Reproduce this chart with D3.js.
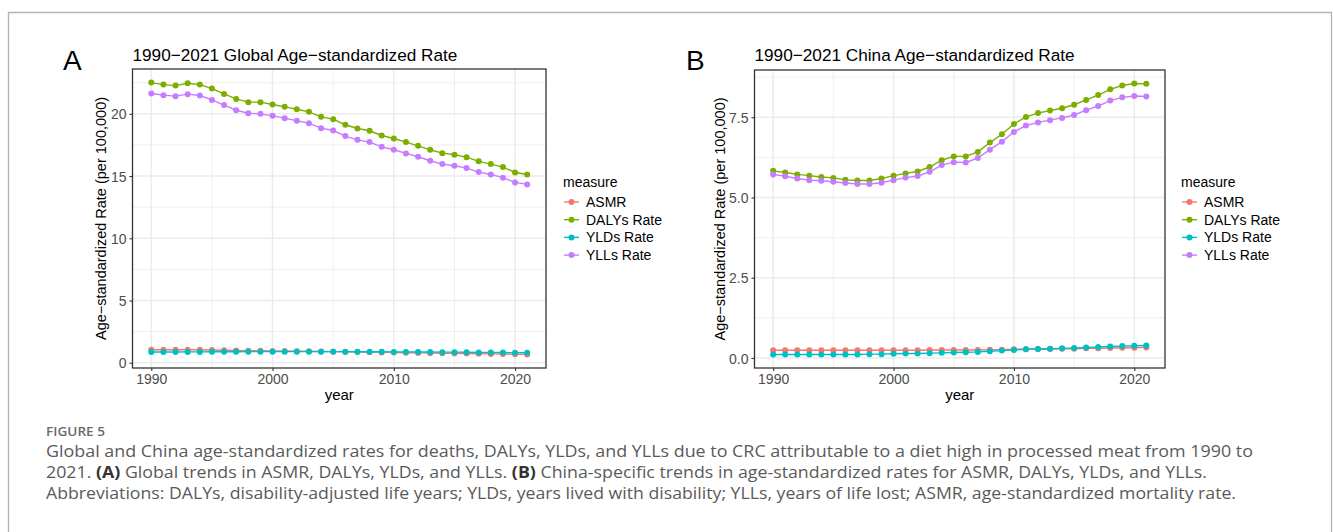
<!DOCTYPE html>
<html>
<head>
<meta charset="utf-8">
<script src="https://cdn.jsdelivr.net/npm/d3@7"></script>
<style>
  html, body { margin: 0; padding: 0; background: #fff; }
  svg { display: block; }
</style>
</head>
<body>
<svg id="fig" width="1333" height="532"></svg>
<script>
// ---- data -------------------------------------------------------------
const years = d3.range(1990, 2022);
const measures = ["ASMR", "DALYs Rate", "YLDs Rate", "YLLs Rate"];
const measureColors = ["#F8766D", "#7CAE00", "#00BFC4", "#C77CFF"];

// Global age-standardized rates (per 100,000)
const globalASMR = [1.05, 1.05, 1.05, 1.05, 1.04, 1.02, 1.00, 0.98, 0.96, 0.96,
  0.95, 0.94, 0.93, 0.92, 0.90, 0.89, 0.87, 0.86, 0.85, 0.83,
  0.82, 0.80, 0.79, 0.77, 0.76, 0.75, 0.74, 0.72, 0.71, 0.70, 0.68, 0.67];
const globalDALYs = [22.51, 22.35, 22.27, 22.46, 22.35, 22.03, 21.60, 21.20, 20.94, 20.94,
  20.75, 20.56, 20.37, 20.16, 19.76, 19.57, 19.12, 18.82, 18.64, 18.26,
  18.02, 17.73, 17.43, 17.11, 16.84, 16.71, 16.52, 16.18, 15.96, 15.72, 15.29, 15.13];
const globalYLDs = [0.86, 0.86, 0.86, 0.87, 0.87, 0.88, 0.88, 0.88, 0.89, 0.89,
  0.89, 0.89, 0.89, 0.89, 0.89, 0.89, 0.89, 0.88, 0.88, 0.88,
  0.87, 0.87, 0.86, 0.86, 0.85, 0.85, 0.84, 0.83, 0.83, 0.82, 0.81, 0.80];
const globalYLLs = [21.63, 21.50, 21.42, 21.58, 21.47, 21.12, 20.70, 20.29, 20.05, 20.00,
  19.84, 19.65, 19.44, 19.25, 18.85, 18.66, 18.21, 17.91, 17.73, 17.35,
  17.11, 16.82, 16.55, 16.23, 15.96, 15.83, 15.64, 15.32, 15.13, 14.87, 14.49, 14.33];

// China age-standardized rates (per 100,000)
const chinaASMR = [0.24, 0.24, 0.24, 0.24, 0.24, 0.24, 0.24, 0.24, 0.24, 0.24,
  0.24, 0.24, 0.24, 0.25, 0.25, 0.25, 0.25, 0.25, 0.26, 0.26,
  0.27, 0.27, 0.28, 0.28, 0.29, 0.29, 0.30, 0.30, 0.31, 0.32, 0.32, 0.33];
const chinaDALYs = [5.83, 5.78, 5.72, 5.68, 5.64, 5.61, 5.55, 5.53, 5.53, 5.59,
  5.68, 5.75, 5.81, 5.95, 6.16, 6.28, 6.28, 6.42, 6.71, 6.97,
  7.29, 7.51, 7.63, 7.71, 7.78, 7.89, 8.04, 8.19, 8.37, 8.49, 8.55, 8.54];
const chinaYLDs = [0.11, 0.11, 0.11, 0.11, 0.11, 0.11, 0.11, 0.11, 0.12, 0.12,
  0.13, 0.14, 0.14, 0.15, 0.16, 0.17, 0.18, 0.19, 0.21, 0.23,
  0.25, 0.27, 0.28, 0.29, 0.30, 0.31, 0.33, 0.34, 0.36, 0.37, 0.38, 0.39];
const chinaYLLs = [5.72, 5.66, 5.59, 5.54, 5.52, 5.49, 5.45, 5.42, 5.42, 5.46,
  5.54, 5.62, 5.67, 5.80, 6.01, 6.10, 6.09, 6.23, 6.49, 6.74,
  7.04, 7.24, 7.34, 7.41, 7.48, 7.57, 7.72, 7.85, 8.02, 8.12, 8.16, 8.15];

// axis ticks
const xTicks = [1990, 2000, 2010, 2020];
const xMinorTicks = [1995, 2005, 2015];
const globalYTicks = [0, 5, 10, 15, 20];
const globalYMinor = [2.5, 7.5, 12.5, 17.5, 22.5];
const chinaYTicks = [0, 2.5, 5, 7.5];
const chinaYMinor = [1.25, 3.75, 6.25, 8.75];

// caption
const captionHead = "FIGURE 5";
const captionLines = [
  "Global and China age-standardized rates for deaths, DALYs, YLDs, and YLLs due to CRC attributable to a diet high in processed meat from 1990 to",
  "2021. |(A)| Global trends in ASMR, DALYs, YLDs, and YLLs. |(B)| China-specific trends in age-standardized rates for ASMR, DALYs, YLDs, and YLLs.",
  "Abbreviations: DALYs, disability-adjusted life years; YLDs, years lived with disability; YLLs, years of life lost; ASMR, age-standardized mortality rate."
];
const captionWidths = [1207, 1161, 1190];

// ---- drawing ----------------------------------------------------------
const svg = d3.select("#fig");
const FONT = "'Liberation Sans', Arial, Helvetica, sans-serif";

// outer frame
svg.append("path")
  .attr("d", "M8.5,545 V12.5 H1331.5 V545")
  .attr("fill", "none").attr("stroke", "#b3b3b3").attr("stroke-width", 1.3);

function panel(cfg) {
  const g = svg.append("g");
  const x = d3.scaleLinear()
    .domain([1990 - 31 * 0.05, 2021 + 31 * 0.05])
    .range([cfg.left, cfg.right]);
  const allVals = cfg.series.flat();
  const lo = d3.min(allVals), hi = d3.max(allVals), pad = (hi - lo) * 0.05;
  const y = d3.scaleLinear().domain([lo - pad, hi + pad]).range([cfg.bottom, cfg.top]);

  // grid
  const grid = g.append("g");
  cfg.yMinor.filter(v => v <= y.domain()[1]).forEach(v => grid.append("line")
    .attr("x1", cfg.left).attr("x2", cfg.right).attr("y1", y(v)).attr("y2", y(v))
    .attr("stroke", "#ebebeb").attr("stroke-width", 0.8));
  xMinorTicks.forEach(v => grid.append("line")
    .attr("x1", x(v)).attr("x2", x(v)).attr("y1", cfg.top).attr("y2", cfg.bottom)
    .attr("stroke", "#ebebeb").attr("stroke-width", 0.8));
  cfg.yTicks.forEach(v => grid.append("line")
    .attr("x1", cfg.left).attr("x2", cfg.right).attr("y1", y(v)).attr("y2", y(v))
    .attr("stroke", "#ebebeb").attr("stroke-width", 1.5));
  xTicks.forEach(v => grid.append("line")
    .attr("x1", x(v)).attr("x2", x(v)).attr("y1", cfg.top).attr("y2", cfg.bottom)
    .attr("stroke", "#ebebeb").attr("stroke-width", 1.5));

  // series
  const line = d3.line().x((d, i) => x(years[i])).y(d => y(d));
  cfg.series.forEach((vals, k) => {
    g.append("path").datum(vals)
      .attr("d", line).attr("fill", "none")
      .attr("stroke", measureColors[k]).attr("stroke-width", 1.4);
    g.selectAll(null).data(vals).enter().append("circle")
      .attr("cx", (d, i) => x(years[i])).attr("cy", d => y(d))
      .attr("r", 3).attr("fill", measureColors[k]);
  });

  // panel border
  g.append("rect")
    .attr("x", cfg.left).attr("y", cfg.top)
    .attr("width", cfg.right - cfg.left).attr("height", cfg.bottom - cfg.top)
    .attr("fill", "none").attr("stroke", "#333333").attr("stroke-width", 1.3);

  // axes
  const xAxis = g.append("g").attr("transform", `translate(0,${cfg.bottom})`)
    .call(d3.axisBottom(x).tickValues(xTicks).tickFormat(d3.format("d")).tickSize(3).tickPadding(3));
  const yAxis = g.append("g").attr("transform", `translate(${cfg.left},0)`)
    .call(d3.axisLeft(y).tickValues(cfg.yTicks).tickFormat(cfg.yFormat).tickSize(3).tickPadding(3));
  [xAxis, yAxis].forEach(a => {
    a.select(".domain").remove();
    a.selectAll(".tick line").attr("stroke", "#333333").attr("stroke-width", 1.1);
    a.selectAll(".tick text").attr("fill", "#4d4d4d")
      .style("font-family", FONT).style("font-size", "14px");
  });
  yAxis.selectAll(".tick text").attr("dy", "0.36em");

  // axis titles
  g.append("text").attr("x", (cfg.left + cfg.right) / 2).attr("y", 400)
    .attr("text-anchor", "middle").style("font-family", FONT).style("font-size", "15px")
    .text("year");
  g.append("text")
    .attr("transform", `translate(${cfg.ytitleX},${(cfg.top + cfg.bottom) / 2}) rotate(-90)`)
    .attr("text-anchor", "middle").style("font-family", FONT).style("font-size", "14.5px")
    .text("Age\u2212standardized Rate (per 100,000)");

  // plot title and panel tag
  g.append("text").attr("x", cfg.left).attr("y", 61)
    .style("font-family", FONT).style("font-size", "17.2px").text(cfg.title);
  g.append("text").attr("x", cfg.tagX).attr("y", 70)
    .style("font-family", FONT).style("font-size", "28px").text(cfg.tag);

  // legend
  const lg = g.append("g");
  lg.append("text").attr("x", cfg.legendX).attr("y", 187)
    .style("font-family", FONT).style("font-size", "14px").text("measure");
  measures.forEach((m, k) => {
    const cy = 202 + k * 17.7;
    lg.append("line").attr("x1", cfg.legendX + 1).attr("x2", cfg.legendX + 16)
      .attr("y1", cy).attr("y2", cy).attr("stroke", measureColors[k]).attr("stroke-width", 1.4);
    lg.append("circle").attr("cx", cfg.legendX + 8.5).attr("cy", cy).attr("r", 3)
      .attr("fill", measureColors[k]);
    lg.append("text").attr("x", cfg.legendX + 23).attr("y", cy + 5)
      .style("font-family", FONT).style("font-size", "14px").text(m);
  });
}

panel({
  left: 132.5, right: 546, top: 69, bottom: 368,
  series: [globalASMR, globalDALYs, globalYLDs, globalYLLs],
  yTicks: globalYTicks, yMinor: globalYMinor, yFormat: d3.format("d"),
  title: "1990\u22122021 Global Age\u2212standardized Rate",
  tag: "A", tagX: 63, ytitleX: 106, legendX: 563
});
panel({
  left: 754.5, right: 1165, top: 70, bottom: 368,
  series: [chinaASMR, chinaDALYs, chinaYLDs, chinaYLLs],
  yTicks: chinaYTicks, yMinor: chinaYMinor, yFormat: d3.format(".1f"),
  title: "1990\u22122021 China Age\u2212standardized Rate",
  tag: "B", tagX: 686, ytitleX: 725, legendX: 1181
});

// caption
const CAP = "'Open Sans', 'Noto Sans', sans-serif";
svg.append("text").attr("x", 46).attr("y", 436)
  .attr("fill", "#6b6b6b").style("font-family", CAP).style("font-size", "13px")
  .style("font-weight", 600).attr("textLength", 59).attr("lengthAdjust", "spacingAndGlyphs")
  .text(captionHead);
captionLines.forEach((ln, i) => {
  const t = svg.append("text").attr("x", 46).attr("y", 457 + i * 21)
    .attr("fill", "#5a5a5a").style("font-family", CAP).style("font-size", "15.5px")
    .attr("textLength", captionWidths[i]).attr("lengthAdjust", "spacingAndGlyphs");
  ln.split("|").forEach((part, j) => {
    t.append("tspan").style("font-weight", j % 2 === 1 ? 700 : 400)
      .attr("fill", j % 2 === 1 ? "#333" : null).text(part);
  });
});
</script>
</body>
</html>
